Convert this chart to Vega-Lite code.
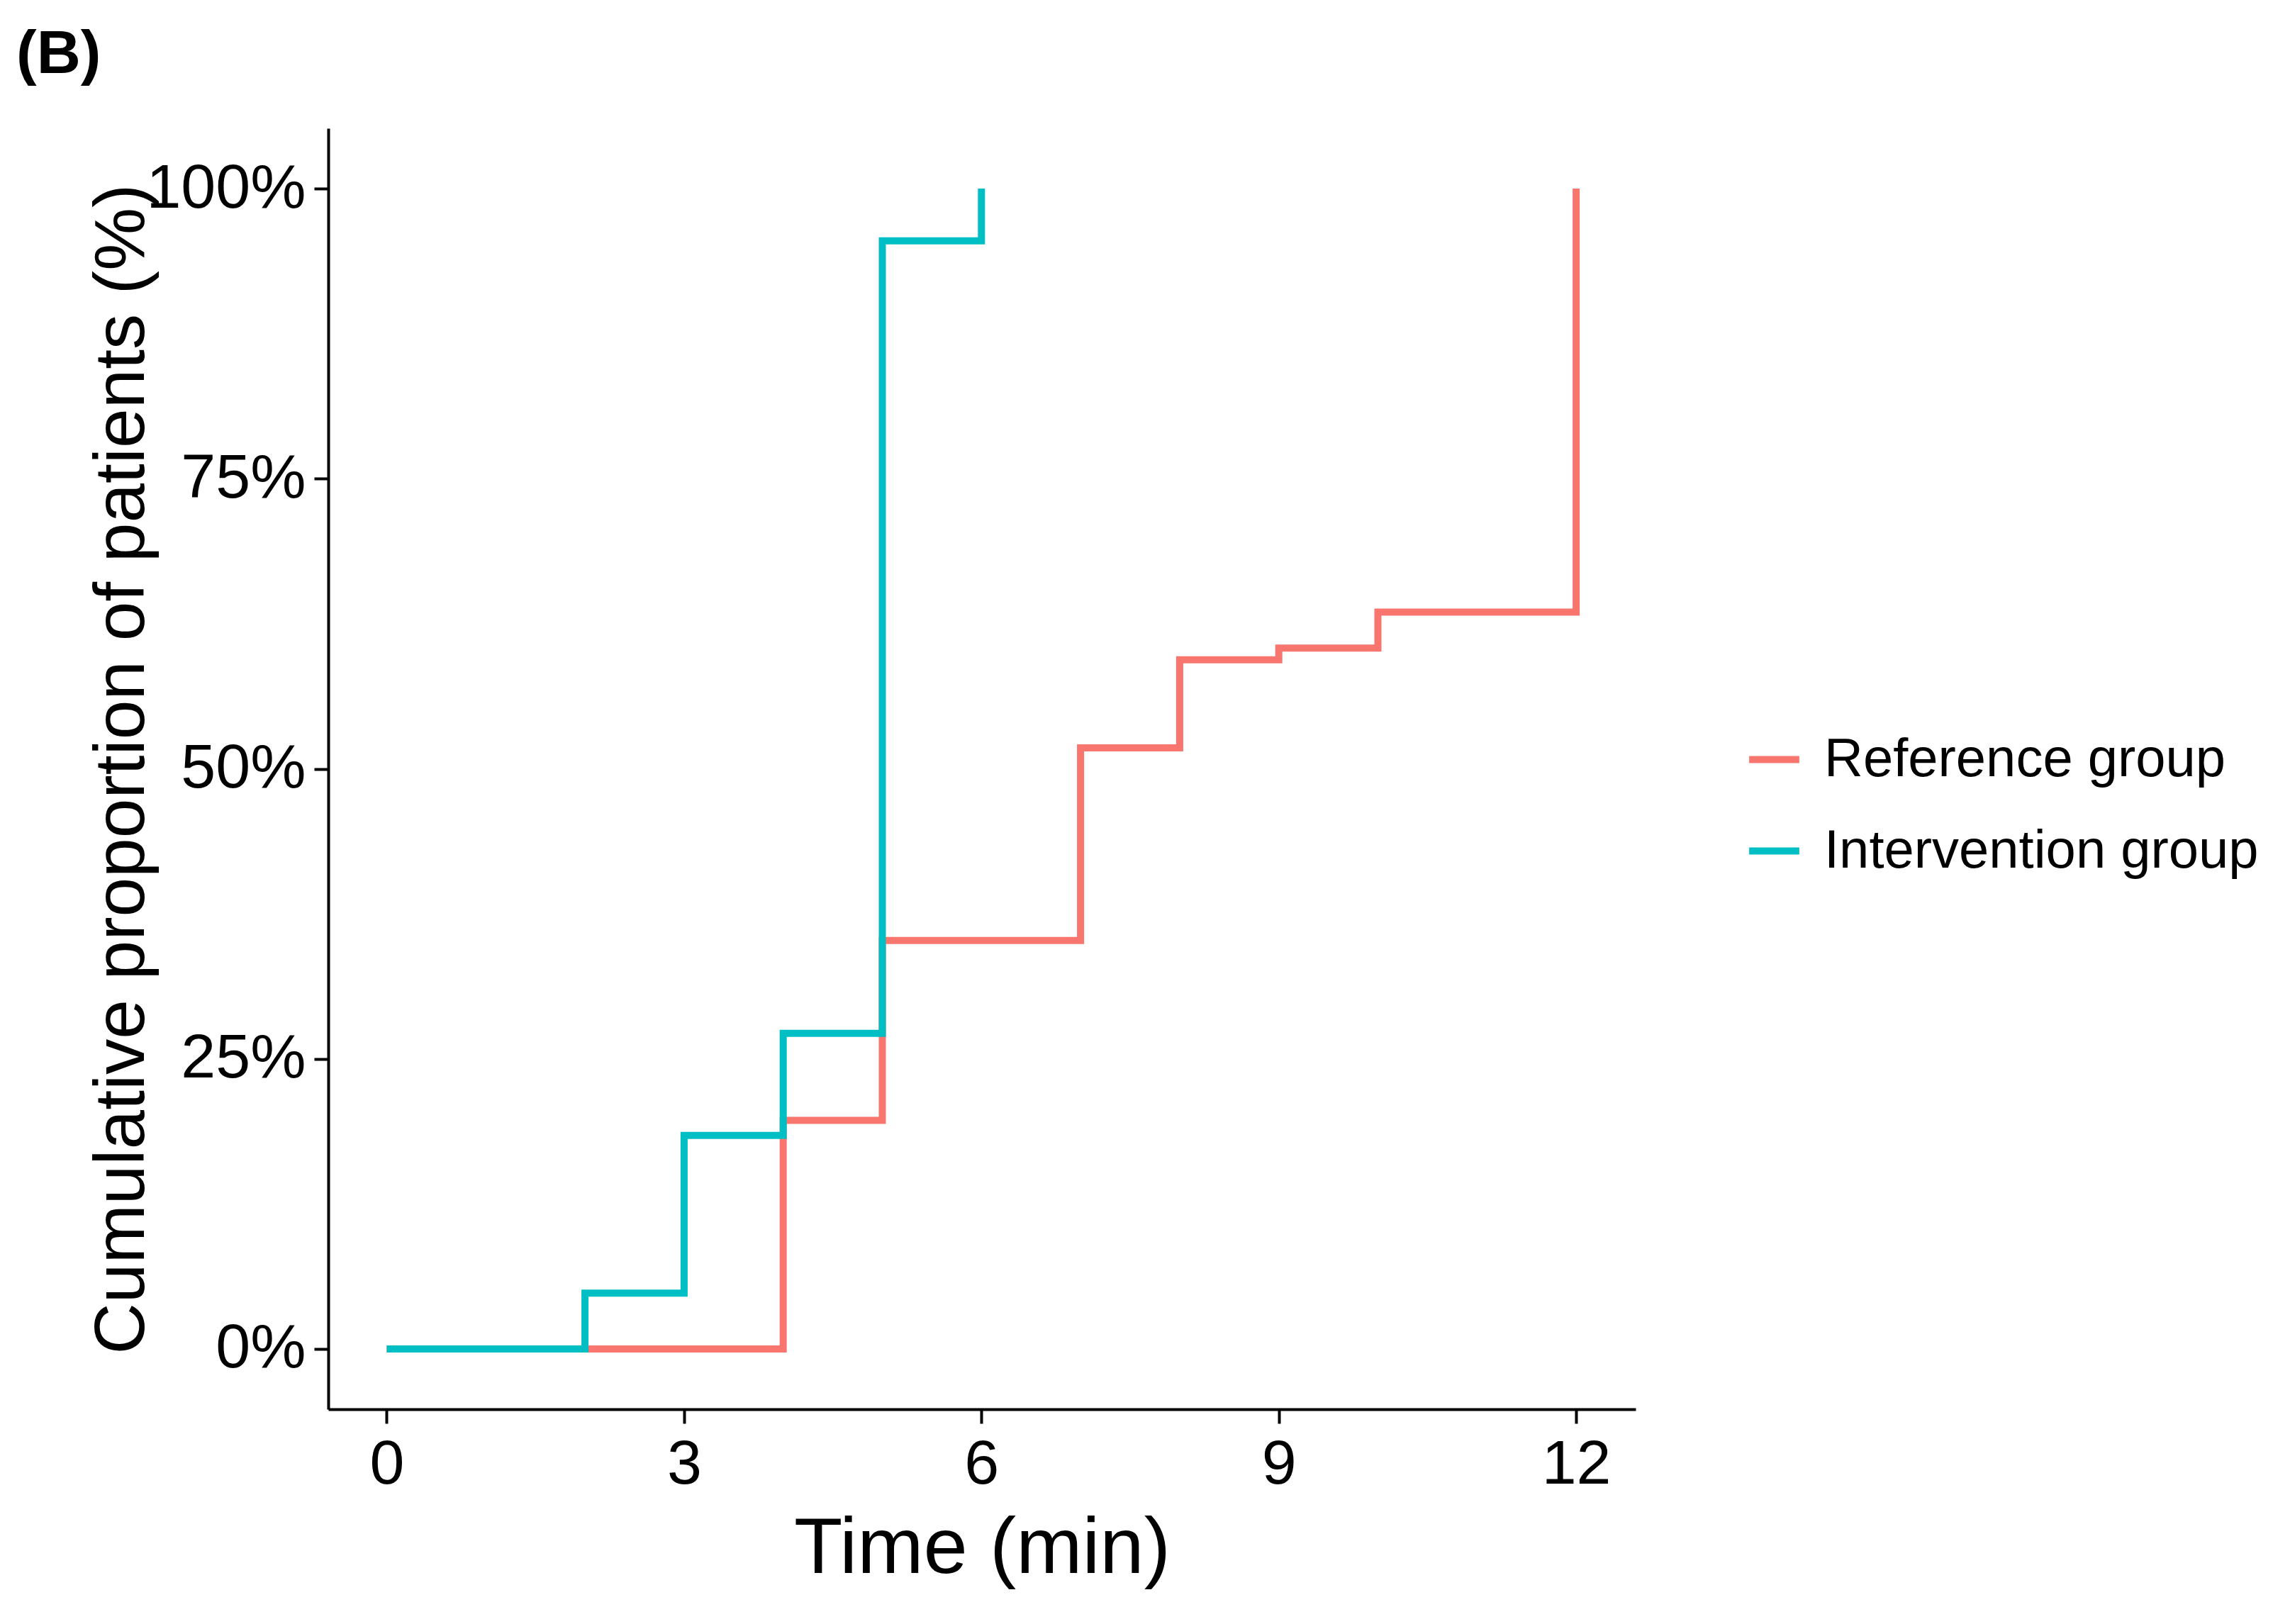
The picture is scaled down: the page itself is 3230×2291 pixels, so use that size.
{
  "$schema": "https://vega.github.io/schema/vega-lite/v6.json",
  "width": 1844,
  "height": 1807,
  "autosize": "none",
  "padding": {"left": 463, "top": 181, "right": 923, "bottom": 303},
  "background": "white",
  "title": {"text": "(B)", "anchor": "start", "frame": "group", "dx": -440, "offset": 60, "fontSize": 86, "font": "Liberation Sans", "fontWeight": "bold", "color": "black"},
  "config": {"view": {"stroke": null}, "font": "Liberation Sans"},
  "data": {"values": [
    {"group": "Reference group", "t": 0, "p": 0},
    {"group": "Reference group", "t": 4, "p": 19.7},
    {"group": "Reference group", "t": 5, "p": 35.2},
    {"group": "Reference group", "t": 7, "p": 51.8},
    {"group": "Reference group", "t": 8, "p": 59.4},
    {"group": "Reference group", "t": 9, "p": 60.4},
    {"group": "Reference group", "t": 10, "p": 63.5},
    {"group": "Reference group", "t": 12, "p": 100},
    {"group": "Intervention group", "t": 0, "p": 0},
    {"group": "Intervention group", "t": 2, "p": 4.8},
    {"group": "Intervention group", "t": 3, "p": 18.4},
    {"group": "Intervention group", "t": 4, "p": 27.2},
    {"group": "Intervention group", "t": 5, "p": 95.5},
    {"group": "Intervention group", "t": 6, "p": 100}
  ]},
  "mark": {"type": "line", "interpolate": "step-after", "strokeWidth": 10, "clip": true},
  "encoding": {
    "x": {"field": "t", "type": "quantitative", "scale": {"domain": [-0.59, 12.6], "nice": false, "zero": false},
      "title": "Time (min)",
      "axis": {"values": [0, 3, 6, 9, 12], "grid": false, "domainColor": "black", "domainWidth": 4, "tickColor": "black", "tickWidth": 4, "tickSize": 20, "labelFontSize": 88, "labelColor": "black", "labelPadding": 14, "titleFontSize": 112, "titleFontWeight": "normal", "titleColor": "black", "titlePadding": 20}},
    "y": {"field": "p", "type": "quantitative", "scale": {"domain": [-5.2, 105.2], "nice": false, "zero": false},
      "title": "Cumulative proportion of patients (%)",
      "axis": {"values": [0, 25, 50, 75, 100], "labelExpr": "datum.value + '%'", "labelLimit": 500, "grid": false, "domainColor": "black", "domainWidth": 4, "tickColor": "black", "tickWidth": 4, "tickSize": 20, "labelFontSize": 88, "labelColor": "black", "labelPadding": 12, "titleFontSize": 100, "titleFontWeight": "normal", "titleColor": "black", "titlePadding": 40}},
    "color": {"field": "group", "type": "nominal", "sort": ["Reference group", "Intervention group"],
      "scale": {"domain": ["Reference group", "Intervention group"], "range": ["#F8766D", "#00BFC4"]},
      "legend": {"title": null, "orient": "none", "legendX": 1999, "legendY": 850, "symbolType": "stroke", "symbolStrokeWidth": 10, "symbolSize": 5000, "labelFontSize": 76, "labelLimit": 1000, "labelColor": "black", "rowPadding": 50, "labelOffset": 30}},
    "order": {"field": "t", "type": "quantitative"}
  }
}
